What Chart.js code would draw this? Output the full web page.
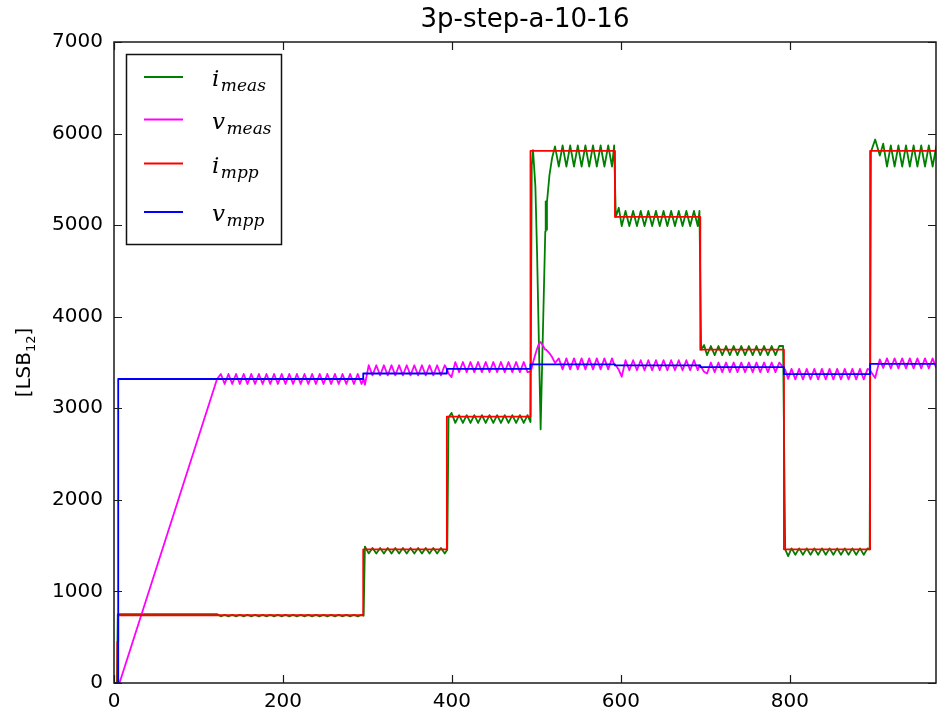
<!DOCTYPE html>
<html>
<head>
<meta charset="utf-8">
<script src="https://cdn.jsdelivr.net/npm/chart.js@4.4.1/dist/chart.umd.min.js"></script>
<style>
  html, body { margin: 0; padding: 0; background: #fff; }
  canvas { display: block; }
</style>
</head>
<body>
<canvas id="c" width="941" height="717"></canvas>
<script>
// Sample times of the measured signals (one line per operating segment)
const tMeas = [
  0, 3.5, 4.5, 6.5,
  122, 126.5, 131, 135.5, 140, 144.5, 149, 153.5, 158, 162.5,
  167, 171.5, 176, 180.5, 185, 189.5, 194, 198.5, 203, 207.5,
  212, 216.5, 221, 225.5, 230, 234.5, 239, 243.5, 248, 252.5,
  257, 261.5, 266, 270.5, 275, 279.5, 284, 288.5, 293,
  295.5, 297,
  301.5, 306, 310.5, 315, 319.5, 324, 328.5, 333, 337.5, 342,
  346.5, 351, 355.5, 360, 364.5, 369, 373.5, 378, 382.5, 387,
  391.5,
  394.5, 396, 399.5,
  404, 408.5, 413, 417.5, 422, 426.5, 431, 435.5, 440, 444.5,
  449, 453.5, 458, 462.5, 467, 471.5, 476, 480.5, 485, 489.5,
  493, 494.5, 496, 498.8, 500.8, 502.8, 505, 510.5, 511, 511.5, 512.5, 515.5, 518.5, 522,
  526.5, 531, 535.5, 540, 544.5, 549, 553.5, 558, 562.5, 567,
  571.5, 576, 580.5, 585, 589.5,
  592, 594, 597.5, 601,
  605.5, 610, 614.5, 619, 623.5, 628, 632.5, 637, 641.5, 646,
  650.5, 655, 659.5, 664, 668.5, 673, 677.5, 682, 686.5, 691,
  693, 695, 698.5, 702,
  706.5, 711, 715.5, 720, 724.5, 729, 733.5, 738, 742.5, 747,
  751.5, 756, 760.5, 765, 769.5, 774, 778.5, 783, 787.5,
  792, 794.5, 798, 802,
  806.5, 811, 815.5, 820, 824.5, 829, 833.5, 838, 842.5, 847,
  851.5, 856, 860.5, 865, 869.5, 874, 878.5, 883, 887.5, 892,
  894.5, 896, 901, 906.5, 910.5,
  915, 919.5, 924, 928.5, 933, 937.5, 942, 946.5, 951, 955.5,
  960, 964.5, 969, 973.5
];

// Measured current i_meas [LSB12]
const iMeas = [
  0, 0, 752, 752,
  752, 728, 745, 728, 745, 728, 745, 728, 745, 728,
  745, 728, 745, 728, 745, 728, 745, 728, 745, 728,
  745, 728, 745, 728, 745, 728, 745, 728, 745, 728,
  745, 728, 745, 728, 745, 728, 745, 728, 745,
  735, 1490,
  1415, 1475, 1415, 1475, 1415, 1475, 1415, 1475, 1415, 1475,
  1415, 1475, 1415, 1475, 1415, 1475, 1415, 1475, 1415, 1475,
  1415,
  1455, 2900, 2950,
  2840, 2925, 2840, 2925, 2840, 2925, 2840, 2925, 2840, 2925,
  2840, 2925, 2840, 2925, 2840, 2925, 2840, 2925, 2840, 2925,
  2850, 5650, 5820, 5420, 4690, 3780, 2770, 4930, 5260, 4950, 5250, 5550, 5730, 5860,
  5640, 5870, 5640, 5870, 5640, 5870, 5640, 5870, 5640, 5870,
  5640, 5870, 5640, 5870, 5640,
  5870, 5090, 5190, 4990,
  5155, 4990, 5155, 4990, 5155, 4990, 5155, 4990, 5155, 4990,
  5155, 4990, 5155, 4990, 5155, 4990, 5155, 4990, 5155, 4990,
  5155, 3640, 3690, 3580,
  3680, 3580, 3680, 3580, 3680, 3580, 3680, 3580, 3680, 3580,
  3680, 3580, 3680, 3580, 3680, 3580, 3680, 3580, 3680,
  3680, 1460, 1385, 1470,
  1400, 1470, 1400, 1470, 1400, 1470, 1400, 1470, 1400, 1470,
  1400, 1470, 1400, 1470, 1400, 1470, 1400, 1470, 1400, 1470,
  1460, 5800, 5935, 5760, 5890,
  5640, 5870, 5640, 5870, 5640, 5870, 5640, 5870, 5640, 5870,
  5640, 5870, 5640, 5870
];

// Measured voltage v_meas [LSB12]
const vMeas = [
  0, 0, 0, 0,
  3320, 3375, 3265, 3375, 3265, 3375, 3265, 3375, 3265, 3375,
  3265, 3375, 3265, 3375, 3265, 3375, 3265, 3375, 3265, 3375,
  3265, 3375, 3265, 3375, 3265, 3375, 3265, 3375, 3265, 3375,
  3265, 3375, 3265, 3375, 3265, 3375, 3265, 3375, 3265,
  3320, 3255,
  3470, 3360, 3470, 3360, 3470, 3360, 3470, 3360, 3470, 3360,
  3470, 3360, 3470, 3360, 3470, 3360, 3470, 3360, 3470, 3360,
  3470,
  3420, 3380, 3340,
  3505, 3395, 3505, 3395, 3505, 3395, 3505, 3395, 3505, 3395,
  3505, 3395, 3505, 3395, 3505, 3395, 3505, 3395, 3505, 3395,
  3400, 3440, 3500, 3590, 3650, 3700, 3725, 3640, 3640, 3640, 3640, 3600, 3560, 3495,
  3545, 3425, 3545, 3425, 3545, 3425, 3545, 3425, 3545, 3425,
  3545, 3425, 3545, 3425, 3545,
  3480, 3470, 3420, 3345,
  3525, 3415, 3525, 3415, 3525, 3415, 3525, 3415, 3525, 3415,
  3525, 3415, 3525, 3415, 3525, 3415, 3525, 3415, 3525, 3415,
  3470, 3450, 3400, 3380,
  3500, 3395, 3500, 3395, 3500, 3395, 3500, 3395, 3500, 3395,
  3500, 3395, 3500, 3395, 3500, 3395, 3500, 3395, 3500,
  3450, 3420, 3320, 3430,
  3315, 3430, 3315, 3430, 3315, 3430, 3315, 3430, 3315, 3430,
  3315, 3430, 3315, 3430, 3315, 3430, 3315, 3430, 3315, 3430,
  3420, 3400, 3330, 3535, 3440,
  3545, 3435, 3545, 3435, 3545, 3435, 3545, 3435, 3545, 3435,
  3545, 3435, 3545, 3435
];

// MPP set-points (held until the next change time)
const tImpp = [0, 4, 5, 295, 394, 493, 593, 694, 793, 895, 973];
const iMpp  = [0, 450, 740, 1460, 2910, 5810, 5090, 3640, 1460, 5810, 5810];
const tVmpp = [0, 5, 295, 394, 493, 593, 694, 793, 895, 973];
const vMpp  = [0, 3320, 3380, 3430, 3480, 3468, 3450, 3372, 3484, 3484];

// Axis ticks
const xTicks = [0, 200, 400, 600, 800];
const yTicks = [0, 1000, 2000, 3000, 4000, 5000, 6000, 7000];

if (tMeas.length !== iMeas.length || tMeas.length !== vMeas.length) {
  console.error('length mismatch', tMeas.length, iMeas.length, vMeas.length);
}

const toPoints = (xs, ys) => xs.map((x, k) => ({ x: x, y: ys[k] }));

const SANS = '"DejaVu Sans", sans-serif';
const SERIF = '"DejaVu Serif", serif';
const TITLE = '3p-step-a-10-16';

const series = [
  { label: 'i_meas', color: '#008000', sub: 'meas', main: 'i' },
  { label: 'v_meas', color: '#ff00ff', sub: 'meas', main: 'v' },
  { label: 'i_mpp',  color: '#ff0000', sub: 'mpp',  main: 'i' },
  { label: 'v_mpp',  color: '#0000ff', sub: 'mpp',  main: 'v' }
];

// Title, frame, inward ticks on all four sides, y-axis title and the legend box
const decorations = {
  id: 'decorations',
  afterDraw(chart) {
    const { ctx, chartArea: a, scales } = chart;
    const xs = scales.x, ys = scales.y;
    ctx.save();

    ctx.fillStyle = '#000';
    ctx.font = '26px ' + SANS;
    ctx.textAlign = 'center';
    ctx.textBaseline = 'middle';
    ctx.fillText(TITLE, (a.left + a.right) / 2, 20);

    ctx.strokeStyle = '#1a1a1a';
    ctx.lineWidth = 1.5;
    ctx.strokeRect(a.left, a.top, a.right - a.left, a.bottom - a.top);

    ctx.lineWidth = 1.2;
    const tl = 8;
    ctx.beginPath();
    xTicks.forEach(v => {
      const px = Math.round(xs.getPixelForValue(v)) + 0.5;
      ctx.moveTo(px, a.bottom); ctx.lineTo(px, a.bottom - tl);
      ctx.moveTo(px, a.top); ctx.lineTo(px, a.top + tl);
    });
    yTicks.forEach(v => {
      const py = Math.round(ys.getPixelForValue(v)) + 0.5;
      ctx.moveTo(a.left, py); ctx.lineTo(a.left + tl, py);
      ctx.moveTo(a.right, py); ctx.lineTo(a.right - tl, py);
    });
    ctx.stroke();

    // y-axis title: [LSB12] with subscript
    ctx.fillStyle = '#000';
    ctx.translate(0, (a.top + a.bottom) / 2);
    ctx.rotate(-Math.PI / 2);
    ctx.textBaseline = 'alphabetic';
    ctx.textAlign = 'left';
    const big = '20px ' + SANS, small = '13px ' + SANS;
    ctx.font = big;
    const w1 = ctx.measureText('[LSB').width;
    const w3 = ctx.measureText(']').width;
    ctx.font = small;
    const w2 = ctx.measureText('12').width;
    let x0 = -(w1 + w2 + w3) / 2;
    ctx.font = big;  ctx.fillText('[LSB', x0, 30);
    ctx.font = small; ctx.fillText('12', x0 + w1, 35);
    ctx.font = big;  ctx.fillText(']', x0 + w1 + w2, 30);
    ctx.restore();

    // legend
    ctx.save();
    const L = 126.5, T = 54.5, R = 281.5, B = 244.5;
    ctx.fillStyle = '#fff';
    ctx.fillRect(L, T, R - L, B - T);
    ctx.strokeStyle = '#111';
    ctx.lineWidth = 1.5;
    ctx.strokeRect(L, T, R - L, B - T);
    const rowY = [77, 119.5, 163.5, 212];
    series.forEach((s, k) => {
      const y = rowY[k];
      ctx.strokeStyle = s.color;
      ctx.lineWidth = 1.8;
      ctx.beginPath();
      ctx.moveTo(144, y); ctx.lineTo(183, y);
      ctx.stroke();
      ctx.fillStyle = '#000';
      ctx.textBaseline = 'alphabetic';
      ctx.textAlign = 'left';
      ctx.font = 'italic 23px ' + SERIF;
      ctx.fillText(s.main, 212, y + 9);
      const mw = ctx.measureText(s.main).width;
      ctx.font = 'italic 17px ' + SERIF;
      ctx.fillText(s.sub, 212 + mw + 1.5, y + 14);
    });
    ctx.restore();
  }
};

const lineStyle = {
  pointRadius: 0,
  pointHoverRadius: 0,
  borderWidth: 1.8,
  borderJoinStyle: 'round',
  tension: 0,
  fill: false
};

new Chart(document.getElementById('c'), {
  type: 'line',
  data: {
    datasets: [
      Object.assign({ label: series[0].label, data: toPoints(tMeas, iMeas), borderColor: series[0].color, order: 4 }, lineStyle),
      Object.assign({ label: series[1].label, data: toPoints(tMeas, vMeas), borderColor: series[1].color, order: 3 }, lineStyle),
      Object.assign({ label: series[2].label, data: toPoints(tImpp, iMpp), borderColor: series[2].color, order: 2, stepped: true }, lineStyle),
      Object.assign({ label: series[3].label, data: toPoints(tVmpp, vMpp), borderColor: series[3].color, order: 1, stepped: true }, lineStyle)
    ]
  },
  options: {
    responsive: false,
    animation: false,
    events: [],
    layout: { padding: { top: 42, right: 5, left: 0, bottom: 0 } },
    plugins: {
      legend: { display: false },
      tooltip: { enabled: false },
      title: { display: false }
    },
    scales: {
      x: {
        type: 'linear',
        min: 0,
        max: 973,
        border: { display: false },
        grid: { display: false, drawTicks: false },
        afterBuildTicks(s) { s.ticks = xTicks.map(v => ({ value: v })); },
        ticks: {
          color: '#000',
          padding: 7,
          maxRotation: 0,
          autoSkip: false,
          font: { family: SANS, size: 20 },
          callback: v => String(v)
        },
        afterFit(s) { s.height = 34; s.paddingRight = 0; s.paddingLeft = 0; }
      },
      y: {
        type: 'linear',
        min: 0,
        max: 7000,
        border: { display: false },
        grid: { display: false, drawTicks: false },
        afterBuildTicks(s) { s.ticks = yTicks.map(v => ({ value: v })); },
        ticks: {
          color: '#000',
          padding: 11,
          autoSkip: false,
          font: { family: SANS, size: 20 },
          callback: v => String(v)
        },
        afterFit(s) { s.width = 114; s.paddingTop = 0; s.paddingBottom = 0; }
      }
    }
  },
  plugins: [decorations]
});
</script>
</body>
</html>
